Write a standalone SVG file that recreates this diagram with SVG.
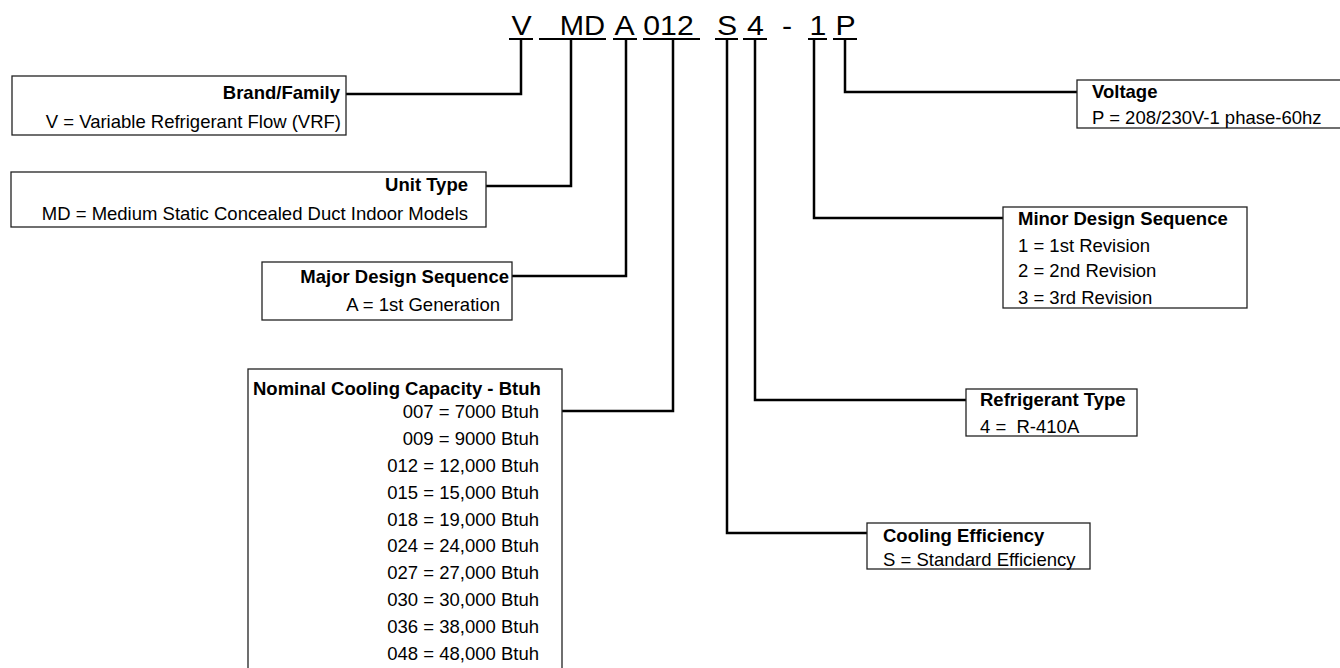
<svg xmlns="http://www.w3.org/2000/svg" width="1340" height="668" viewBox="0 0 1340 668">
<style>
.bg{fill:#fff}
.box{fill:#fff;stroke:#222;stroke-width:1.3}
.con{fill:none;stroke:#000;stroke-width:2.5;stroke-linejoin:miter}
.ul{stroke:#000;stroke-width:2}
.hd{font-family:"Liberation Sans",Arial,sans-serif;font-size:27px;fill:#000;text-anchor:middle}
.t{font-family:"Liberation Sans",Arial,sans-serif;font-size:18.5px;fill:#000}
.b{font-weight:bold}
.e{text-anchor:end}
</style>
<rect class="bg" x="0" y="0" width="1340" height="668"/>
<g id="code">
<text class="hd" transform="translate(521.5 35) scale(1.12 1)">V</text>
<text class="hd" transform="translate(582.5 35) scale(1.08 1)">MD</text>
<text class="hd" transform="translate(624.5 35) scale(1.12 1)">A</text>
<text class="hd" transform="translate(668.5 35) scale(1.12 1)">012</text>
<text class="hd" transform="translate(727 35) scale(1.12 1)">S</text>
<text class="hd" transform="translate(755.5 35) scale(1.12 1)">4</text>
<text class="hd" transform="translate(787 35) scale(1.12 1)">-</text>
<text class="hd" transform="translate(818 35) scale(1.12 1)">1</text>
<text class="hd" transform="translate(845.5 35) scale(1.12 1)">P</text>
<line class="ul" x1="509" y1="39" x2="533" y2="39"/>
<line class="ul" x1="539" y1="39" x2="606" y2="39"/>
<line class="ul" x1="613" y1="39" x2="637" y2="39"/>
<line class="ul" x1="643" y1="39" x2="700" y2="39"/>
<line class="ul" x1="715" y1="39" x2="738" y2="39"/>
<line class="ul" x1="743" y1="39" x2="767" y2="39"/>
<line class="ul" x1="808" y1="39" x2="827" y2="39"/>
<line class="ul" x1="833" y1="39" x2="857" y2="39"/>
</g>
<g id="connectors">
<path class="con" d="M346 94 H521 V39"/>
<path class="con" d="M486 186 H571 V39"/>
<path class="con" d="M512 276 H626 V39"/>
<path class="con" d="M562 411 H673 V39"/>
<path class="con" d="M867 533 H727 V39"/>
<path class="con" d="M966 400 H755 V39"/>
<path class="con" d="M1003 218 H814 V39"/>
<path class="con" d="M1077 92 H845 V39"/>
</g>
<g id="brand">
<rect class="box" x="12" y="76" width="334" height="59"/>
<text class="t b e" x="340" y="99">Brand/Family</text>
<text class="t e" x="341" y="128">V = Variable Refrigerant Flow (VRF)</text>
</g>
<g id="unit-type">
<rect class="box" x="11" y="172" width="475" height="55"/>
<text class="t b e" x="468" y="191">Unit Type</text>
<text class="t e" x="468" y="220">MD = Medium Static Concealed Duct Indoor Models</text>
</g>
<g id="major">
<rect class="box" x="262" y="262" width="250" height="58"/>
<text class="t b e" x="509" y="283">Major Design Sequence</text>
<text class="t e" x="500" y="311">A = 1st Generation</text>
</g>
<g id="capacity">
<rect class="box" x="248" y="369" width="314" height="310"/>
<text class="t b" x="253" y="395">Nominal Cooling Capacity - Btuh</text>
<text class="t e" x="539" y="418.3">007 = 7000 Btuh</text>
<text class="t e" x="539" y="445.1">009 = 9000 Btuh</text>
<text class="t e" x="539" y="471.9">012 = 12,000 Btuh</text>
<text class="t e" x="539" y="498.7">015 = 15,000 Btuh</text>
<text class="t e" x="539" y="525.5">018 = 19,000 Btuh</text>
<text class="t e" x="539" y="552.3">024 = 24,000 Btuh</text>
<text class="t e" x="539" y="579.1">027 = 27,000 Btuh</text>
<text class="t e" x="539" y="605.9">030 = 30,000 Btuh</text>
<text class="t e" x="539" y="632.7">036 = 38,000 Btuh</text>
<text class="t e" x="539" y="659.5">048 = 48,000 Btuh</text>
</g>
<g id="efficiency">
<rect class="box" x="867" y="523" width="223" height="46"/>
<text class="t b" x="883" y="541.7">Cooling Efficiency</text>
<text class="t" x="883" y="566">S = Standard Efficiency</text>
</g>
<g id="refrigerant">
<rect class="box" x="966" y="389" width="171" height="47"/>
<text class="t b" x="980" y="405.7">Refrigerant Type</text>
<text class="t" x="980" y="432.7" xml:space="preserve">4 =  R-410A</text>
</g>
<g id="minor">
<rect class="box" x="1003" y="207" width="244" height="101"/>
<text class="t b" x="1018" y="225">Minor Design Sequence</text>
<text class="t" x="1018" y="251.7">1 = 1st Revision</text>
<text class="t" x="1018" y="277">2 = 2nd Revision</text>
<text class="t" x="1018" y="304">3 = 3rd Revision</text>
</g>
<g id="voltage">
<rect class="box" x="1077" y="80" width="270" height="48"/>
<text class="t b" x="1092" y="98">Voltage</text>
<text class="t" x="1092" y="124">P = 208/230V-1 phase-60hz</text>
</g>
</svg>
